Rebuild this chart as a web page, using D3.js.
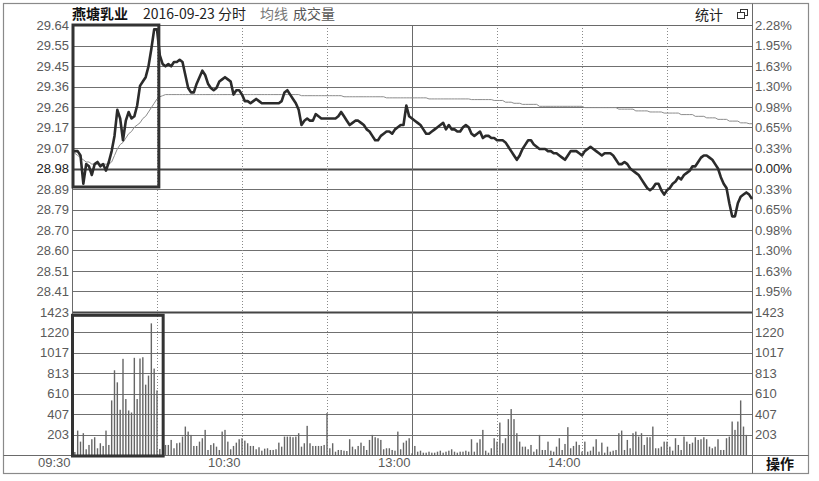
<!DOCTYPE html>
<html>
<head>
<meta charset="utf-8">
<script src="https://cdn.jsdelivr.net/npm/d3@7/dist/d3.min.js"></script>
<style>
  html, body { margin: 0; padding: 0; background: #ffffff; }
  svg { display: block; }
</style>
</head>
<body>
<svg id="chart" width="819" height="481"></svg>
<script>
// ---------------- DATA ----------------
const stockName = "燕塘乳业";
const dateText = "2016-09-23 分时";
const prevClose = 28.98;
const priceStep = 0.0943;

const leftTickLabels = ["29.64","29.55","29.45","29.36","29.26","29.17","29.07","28.98","28.89","28.79","28.70","28.60","28.51","28.41"];
const rightTickLabels = ["2.28%","1.95%","1.63%","1.30%","0.98%","0.65%","0.33%","0.00%","0.33%","0.65%","0.98%","1.30%","1.63%","1.95%"];
const volTicks = [1423, 1220, 1017, 813, 610, 407, 203];
const volMax = 1423;

const timeLabels = ["09:30", "10:30", "13:00", "14:00"];
const timeLabelMinutes = [0, 60, 120, 180];
const dottedMinutes = [30, 60, 90, 150, 180, 210];
const solidMinutes = [120];

// minute-by-minute price (241 points, 09:30 .. 15:00)
const price = [
  29.06,29.06,29.06,29.04,28.91,29.00,28.99,28.95,29.00,29.01,
  28.99,29.00,28.97,29.01,29.06,29.13,29.25,29.21,29.11,29.20,
  29.24,29.21,29.22,29.27,29.36,29.38,29.40,29.45,29.53,29.62,
  29.62,29.50,29.46,29.45,29.46,29.45,29.47,29.47,29.48,29.47,
  29.41,29.35,29.33,29.33,29.37,29.40,29.43,29.41,29.37,29.35,
  29.34,29.35,29.38,29.39,29.40,29.39,29.38,29.32,29.34,29.34,
  29.32,29.29,29.29,29.28,29.29,29.30,29.29,29.28,29.28,29.28,
  29.28,29.28,29.28,29.28,29.29,29.33,29.34,29.32,29.30,29.28,
  29.25,29.18,29.20,29.21,29.20,29.20,29.23,29.22,29.21,29.21,
  29.21,29.21,29.21,29.21,29.22,29.24,29.22,29.20,29.18,29.19,
  29.20,29.20,29.19,29.18,29.16,29.15,29.13,29.11,29.11,29.13,
  29.14,29.15,29.15,29.14,29.16,29.17,29.18,29.18,29.27,29.22,
  29.21,29.20,29.19,29.18,29.16,29.14,29.14,29.15,29.16,29.17,
  29.18,29.19,29.16,29.18,29.16,29.16,29.15,29.15,29.17,29.18,
  29.17,29.14,29.13,29.14,29.15,29.12,29.13,29.13,29.12,29.12,
  29.11,29.11,29.11,29.10,29.08,29.06,29.04,29.02,29.04,29.07,
  29.09,29.11,29.11,29.09,29.08,29.07,29.07,29.07,29.06,29.06,
  29.05,29.05,29.04,29.03,29.02,29.04,29.06,29.06,29.06,29.05,
  29.04,29.06,29.07,29.08,29.07,29.06,29.05,29.04,29.05,29.05,
  29.05,29.04,29.02,29.00,29.00,29.01,29.00,28.98,28.97,28.96,
  28.95,28.93,28.91,28.89,28.88,28.89,28.91,28.91,28.88,28.86,
  28.88,28.89,28.91,28.92,28.94,28.93,28.95,28.96,28.97,28.99,
  28.99,29.01,29.03,29.04,29.04,29.03,29.02,29.00,28.98,28.94,
  28.91,28.89,28.82,28.76,28.76,28.82,28.85,28.86,28.87,28.86,
  28.84
];

// minute-by-minute average price line
const avgPrice = [
  29.06,29.05,29.04,29.03,29.02,29.01,29.01,29.00,29.00,29.00,
  29.00,29.00,29.00,29.00,29.01,29.04,29.07,29.09,29.10,29.12,
  29.14,29.15,29.17,29.18,29.19,29.21,29.22,29.24,29.26,29.28,
  29.30,29.31,29.315,29.32,29.32,29.32,29.32,29.32,29.32,29.32,
  29.32,29.32,29.32,29.32,29.32,29.32,29.32,29.32,29.32,29.32,
  29.32,29.32,29.32,29.32,29.32,29.32,29.32,29.32,29.32,29.32,
  29.32,29.32,29.32,29.32,29.32,29.32,29.32,29.32,29.32,29.32,
  29.32,29.32,29.32,29.32,29.32,29.32,29.32,29.32,29.32,29.32,
  29.32,29.315,29.315,29.315,29.315,29.315,29.315,29.315,29.315,29.315,
  29.315,29.315,29.315,29.315,29.315,29.315,29.31,29.31,29.31,29.31,
  29.31,29.31,29.31,29.31,29.31,29.31,29.31,29.31,29.31,29.31,
  29.31,29.305,29.305,29.305,29.305,29.305,29.305,29.305,29.305,29.305,
  29.305,29.305,29.305,29.305,29.305,29.305,29.30,29.30,29.30,29.30,
  29.30,29.30,29.30,29.30,29.30,29.30,29.30,29.30,29.30,29.30,
  29.30,29.297,29.297,29.297,29.297,29.297,29.297,29.297,29.297,29.293,
  29.293,29.293,29.293,29.285,29.285,29.285,29.28,29.28,29.28,29.275,
  29.275,29.275,29.275,29.275,29.275,29.266,29.266,29.266,29.266,29.266,
  29.266,29.266,29.266,29.266,29.266,29.266,29.266,29.266,29.266,29.266,
  29.266,29.26,29.26,29.26,29.26,29.26,29.26,29.26,29.26,29.26,
  29.26,29.26,29.26,29.253,29.253,29.253,29.253,29.253,29.253,29.245,
  29.245,29.245,29.245,29.245,29.24,29.24,29.24,29.24,29.24,29.235,
  29.235,29.235,29.235,29.235,29.235,29.228,29.228,29.228,29.228,29.228,
  29.22,29.22,29.22,29.22,29.213,29.213,29.213,29.213,29.206,29.206,
  29.206,29.206,29.198,29.198,29.198,29.198,29.19,29.19,29.19,29.186,
  29.186
];

// minute-by-minute volume (lots)
const volume = [
  300,30,243,133,217,57,100,157,177,67,
  117,90,243,100,543,843,723,450,957,557,
  443,423,967,557,960,973,700,790,1310,860,
  643,60,80,100,100,150,67,117,123,183,
  283,233,200,90,90,133,167,250,50,100,
  117,83,50,233,250,133,57,90,123,157,
  167,143,117,90,90,57,77,43,63,67,
  50,50,57,123,83,183,183,183,177,183,
  217,83,117,290,117,90,90,90,90,100,
  417,67,117,33,50,50,43,40,157,83,
  57,90,123,90,50,150,200,177,167,150,
  57,67,67,50,43,233,57,123,143,167,
  17,90,33,43,23,23,33,23,23,33,
  43,23,33,43,57,33,23,33,33,43,
  33,157,33,123,157,250,43,23,67,167,
  133,323,117,167,357,457,357,217,133,83,
  83,57,100,33,57,200,50,50,133,43,
  33,83,167,50,110,277,67,90,133,100,
  33,133,33,43,83,157,33,123,23,83,
  33,43,50,217,243,50,150,67,217,233,
  183,217,100,177,177,283,67,67,83,133,
  133,83,43,167,100,50,183,133,110,123,
  177,150,157,177,157,83,67,83,157,50,
  50,167,183,333,250,333,543,283,200,0,
  0
];

// highlighted regions (minutes / values)
const priceBox = { m0: 0, m1: 30.3, top: 29.64, bottom: 28.895 };
const volBox = { m0: 0, m1: 32, top: 1390, bottom: 0 };

// ---------------- LAYOUT ----------------
const svg = d3.select("#chart");
const L = 72, R = 752, T = 25, MID = 312, B = 455;
const fontNum = "'Liberation Sans', Arial, sans-serif";
const fontCJK = "'Noto Sans CJK SC', 'Noto Sans', sans-serif";

const x = d3.scaleLinear().domain([0, 240]).range([L, R]);
const yP = d3.scaleLinear().domain([prevClose - 7 * priceStep, prevClose + 7 * priceStep]).range([MID, T]);
const yV = d3.scaleLinear().domain([0, volMax]).range([B, MID]);

const priceLevels = leftTickLabels.map((d, i) => prevClose + (7 - i) * priceStep);

// outer frame
svg.append("rect").attr("x", 3.5).attr("y", 3.5).attr("width", 805).attr("height", 470)
  .attr("fill", "#ffffff").attr("stroke", "#8a8a8a").attr("stroke-width", 1.2);

// horizontal grid: price
svg.append("g").selectAll("line").data(priceLevels).join("line")
  .attr("x1", L).attr("x2", R)
  .attr("y1", d => Math.round(yP(d)) + 0.5).attr("y2", d => Math.round(yP(d)) + 0.5)
  .attr("stroke", (d, i) => i === 7 ? "#454545" : "#707070")
  .attr("stroke-width", (d, i) => i === 7 ? 2 : 1);

// horizontal grid: volume
svg.append("g").selectAll("line").data(volTicks).join("line")
  .attr("x1", L).attr("x2", R)
  .attr("y1", d => Math.round(yV(d)) + 0.5).attr("y2", d => Math.round(yV(d)) + 0.5)
  .attr("stroke", d => d === volMax ? "#454545" : "#707070")
  .attr("stroke-width", d => d === volMax ? 2 : 1);

// vertical grid
svg.append("g").selectAll("line").data(dottedMinutes).join("line")
  .attr("x1", d => Math.round(x(d)) + 0.5).attr("x2", d => Math.round(x(d)) + 0.5)
  .attr("y1", T).attr("y2", B)
  .attr("stroke", "#8a8a8a").attr("stroke-width", 1).attr("stroke-dasharray", "1,2");
svg.append("g").selectAll("line").data(solidMinutes).join("line")
  .attr("x1", d => Math.round(x(d)) + 0.5).attr("x2", d => Math.round(x(d)) + 0.5)
  .attr("y1", T).attr("y2", B)
  .attr("stroke", "#6a6a6a").attr("stroke-width", 1);

// frame lines of plot
svg.append("line").attr("x1", L).attr("x2", R).attr("y1", T + 0.5).attr("y2", T + 0.5).attr("stroke", "#6a6a6a");
svg.append("line").attr("x1", L + 0.5).attr("x2", L + 0.5).attr("y1", T).attr("y2", B).attr("stroke", "#6a6a6a");
svg.append("line").attr("x1", R + 0.5).attr("x2", R + 0.5).attr("y1", 3.5).attr("y2", 473.5).attr("stroke", "#6a6a6a");
svg.append("line").attr("x1", 3.5).attr("x2", 808.5).attr("y1", B + 0.5).attr("y2", B + 0.5).attr("stroke", "#6a6a6a");

// volume bars
svg.append("g").selectAll("rect").data(volume).join("rect")
  .attr("x", (d, i) => x(i) - 0.7)
  .attr("width", 1.4)
  .attr("y", d => yV(d))
  .attr("height", d => B - yV(d))
  .attr("fill", "#666");

// average line
svg.append("path").datum(avgPrice)
  .attr("d", d3.line().x((d, i) => x(i)).y(d => yP(d)))
  .attr("fill", "none").attr("stroke", "#8c8c8c").attr("stroke-width", 1);

// price line
svg.append("path").datum(price)
  .attr("d", d3.line().x((d, i) => x(i)).y(d => yP(d)))
  .attr("fill", "none").attr("stroke", "#2b2b2b").attr("stroke-width", 2.6)
  .attr("stroke-linejoin", "round");

// highlight boxes
svg.append("rect")
  .attr("x", x(priceBox.m0) + 1).attr("y", yP(priceBox.top))
  .attr("width", x(priceBox.m1) - x(priceBox.m0)).attr("height", yP(priceBox.bottom) - yP(priceBox.top))
  .attr("fill", "none").attr("stroke", "#333").attr("stroke-width", 3);
svg.append("rect")
  .attr("x", x(volBox.m0) + 0.5).attr("y", yV(volBox.top))
  .attr("width", x(volBox.m1) - x(volBox.m0)).attr("height", yV(volBox.bottom) - yV(volBox.top) + 1)
  .attr("fill", "none").attr("stroke", "#333").attr("stroke-width", 3);

// axes
function styleAxis(g) {
  g.select(".domain").remove();
  g.selectAll("text").attr("font-family", fontNum).attr("font-size", 13).attr("fill", "#5a5a5a");
}
const leftPrice = svg.append("g").attr("transform", `translate(${L - 2},0)`)
  .call(d3.axisLeft(yP).tickValues(priceLevels).tickFormat((d, i) => leftTickLabels[i]).tickSize(0).tickPadding(1))
  .call(styleAxis);
leftPrice.selectAll("text").filter((d, i) => i === 7).attr("fill", "#222");

const rightPrice = svg.append("g").attr("transform", `translate(${R + 2},0)`)
  .call(d3.axisRight(yP).tickValues(priceLevels).tickFormat((d, i) => rightTickLabels[i]).tickSize(0).tickPadding(1))
  .call(styleAxis);
rightPrice.selectAll("text").filter((d, i) => i === 7).attr("fill", "#222");

svg.append("g").attr("transform", `translate(${L - 2},0)`)
  .call(d3.axisLeft(yV).tickValues(volTicks).tickFormat(d => String(d)).tickSize(0).tickPadding(1))
  .call(styleAxis);
svg.append("g").attr("transform", `translate(${R + 2},0)`)
  .call(d3.axisRight(yV).tickValues(volTicks).tickFormat(d => String(d)).tickSize(0).tickPadding(1))
  .call(styleAxis);

const timeAxis = svg.append("g").attr("transform", `translate(0,${B + 1})`)
  .call(d3.axisBottom(x).tickValues(timeLabelMinutes).tickFormat((d, i) => timeLabels[i]).tickSize(0).tickPadding(2))
  .call(styleAxis);
timeAxis.selectAll("text").attr("text-anchor", "end").attr("dx", -2);

// header texts
const hdr = svg.append("text").attr("x", L).attr("y", 19).attr("font-family", fontCJK).attr("font-size", 14);
hdr.append("tspan").text(stockName).attr("fill", "#111").attr("font-weight", "bold");
hdr.append("tspan").text(dateText).attr("x", 143).attr("fill", "#222");
hdr.append("tspan").text("均线").attr("x", 260).attr("fill", "#777");
hdr.append("tspan").text("成交量").attr("x", 293).attr("fill", "#555");

svg.append("text").attr("x", 695).attr("y", 20).attr("font-family", fontCJK).attr("font-size", 14)
  .attr("fill", "#222").text("统计");
// restore icon
svg.append("rect").attr("x", 740.5).attr("y", 9.5).attr("width", 7).attr("height", 6).attr("fill", "#fff").attr("stroke", "#333");
svg.append("rect").attr("x", 737.5).attr("y", 12.5).attr("width", 7).attr("height", 6).attr("fill", "#fff").attr("stroke", "#333");

svg.append("text").attr("x", 780).attr("y", 469).attr("text-anchor", "middle")
  .attr("font-family", fontCJK).attr("font-size", 14).attr("font-weight", "bold").attr("fill", "#111").text("操作");
</script>
</body>
</html>
